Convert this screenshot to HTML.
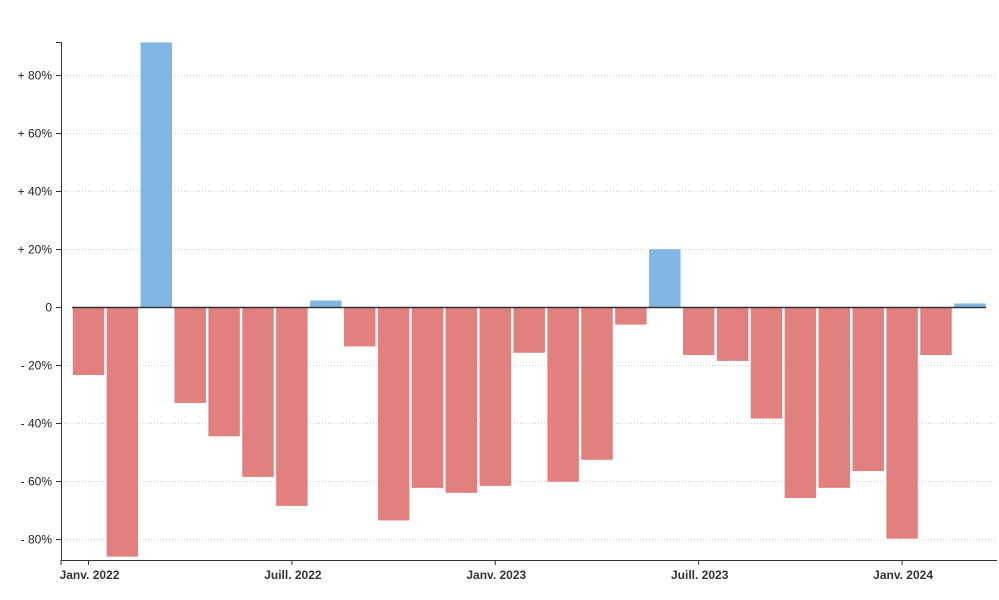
<!DOCTYPE html>
<html><head><meta charset="utf-8"><style>
html,body{margin:0;padding:0;background:#fff;}
svg{display:block;font-family:"Liberation Sans",Arial,sans-serif;}
</style></head><body>
<svg id="chart" width="999" height="600"></svg>
<script>
const months = ["2022-01","2022-02","2022-03","2022-04","2022-05","2022-06","2022-07","2022-08","2022-09","2022-10","2022-11","2022-12","2023-01","2023-02","2023-03","2023-04","2023-05","2023-06","2023-07","2023-08","2023-09","2023-10","2023-11","2023-12","2024-01","2024-02","2024-03"];
const values = [-23.4,-86,91.5,-33,-44.5,-58.5,-68.5,2.5,-13.5,-73.5,-62.3,-64,-61.6,-15.7,-60.2,-52.6,-6,20.2,-16.5,-18.5,-38.4,-65.8,-62.3,-56.5,-79.8,-16.5,1.5];
const yTicks = [-80,-60,-40,-20,0,20,40,60,80];
const yTickLabels = ["- 80%","- 60%","- 40%","- 20%","0","+ 20%","+ 40%","+ 60%","+ 80%"];
const xTickIndex = [0,6,12,18,24];
const xTickLabels = ["Janv. 2022","Juill. 2022","Janv. 2023","Juill. 2023","Janv. 2024"];

const NS="http://www.w3.org/2000/svg";
const svg=document.getElementById('chart');
const y0=307.5, pxPerPct=58/20;
const yScale=v=>y0-v*pxPerPct;
const x0=88.5, step=33.9, barW=32;
const xScale=i=>x0+i*step;
function mk(t,a){const e=document.createElementNS(NS,t);for(const k in a)e.setAttribute(k,a[k]);svg.appendChild(e);return e;}

yTicks.forEach((v,i)=>{
  const y=yScale(v);
  if(v!==0){const g=mk('line',{x1:61,x2:997,y1:y,y2:y,stroke:'#ccc','stroke-dasharray':'1,2','stroke-width':1});
  
  }
  const t=mk('line',{x1:56,x2:61,y1:y,y2:y,stroke:'#333'});
  
  
  const l=mk('text',{x:52,y:y+4,'text-anchor':'end','font-size':12,fill:'#222'});
  l.textContent=yTickLabels[i];
  
  
});

values.forEach((v,i)=>{
  const cx=xScale(i), y=yScale(v);
  const r=mk('rect',{x:cx-barW/2,y:Math.min(y,y0),width:barW,height:Math.abs(y-y0),fill:v>=0?'#82b6e4':'#e28080',stroke:'#fff','stroke-width':0.5});
  
  
});

const z=mk('line',{x1:72,x2:986,y1:y0,y2:y0,stroke:'#333','stroke-width':1.5});


const ya=mk('path',{d:'M56 42.5H61.5V560',stroke:'#333',fill:'none'});


const xa=mk('path',{d:'M61 565V560.5H997',stroke:'#333',fill:'none'});



xTickIndex.forEach((idx,i)=>{
  const x=xScale(idx);
  const t=mk('line',{x1:x,x2:x,y1:560,y2:565,stroke:'#333'});
  
  
  const l=mk('text',{x:x+1,y:579,'text-anchor':'middle','font-size':12,'font-weight':'bold',fill:'#333'});
  l.textContent=xTickLabels[i];
  
  
});
</script>
</body></html>
